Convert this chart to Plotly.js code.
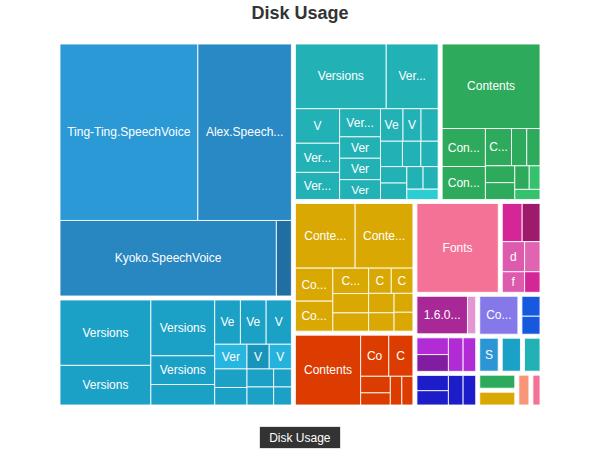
<!DOCTYPE html>
<html><head><meta charset="utf-8">
<script src="https://cdn.plot.ly/plotly-3.0.1.min.js"></script>
<style>html,body{margin:0;padding:0;background:#fff}#chart{width:600px;height:450px}</style>
</head><body><div id="chart"></div>
<script>
const rootName = 'Disk Usage';

const groupNames = ['Voices','Frameworks A','Frameworks B','Contents A','Contents B','Contents C','Fonts','Misc A',
  'Java','Components','Misc B','Misc C','Services','Misc D','Misc E','Misc F','Misc G','Misc H','Misc I','Misc J'];

const leafGroup = [
  0,0,0,0,
  1,1,1,1,1,1,1,1,1,1,1,1,1,1,1,1,1,
  2,2,2,2,2,2,2,2,2,2,2,2,2,2,2,2,2,2,2,2,
  3,3,3,3,3,3,3,3,3,3,3,
  4,4,4,4,4,4,4,4,4,4,4,4,4,
  5,5,5,5,5,5,5,
  6,
  7,7,7,7,7,7,
  8,8,
  9,
  10,10,
  11,11,11,11,
  12,13,14,
  15,15,15,15,
  16,17,18,19
];

const leafLabels = [
  'Ting-Ting.SpeechVoice','Alex.Speech...','Kyoko.SpeechVoice','',
  'Versions','Versions','Versions','Versions','','Ve','Ve','V','Ver','','','V','V','','','','',
  'Versions','Ver...','V','Ver...','Ver...','Ver...','Ver','Ver','Ver','Ve','V','','','','','','','','','',
  'Contents','Con...','Con...','C...','','','','','','','',
  'Conte...','Conte...','Co...','Co...','C...','','','C','C','','','','',
  'Contents','Co','C','','','','',
  'Fonts',
  '','','d','','f','',
  '1.6.0...','',
  'Co...',
  '','',
  '','','','',
  'S','','',
  '','','','',
  '','','',''
];

const leafValues = [
  25093,17034,16859,1171,
  6263,3794,3758,1932,1380,1200,1200,1178,841,631,596,578,578,506,506,337,337,
  6189,3536,1607,1356,1260,1211,922,922,853,771,617,586,586,493,462,456,456,385,358,339,
  8815,1751,1520,1037,606,527,527,527,362,271,271,
  4115,3975,1315,1196,969,736,697,609,581,526,498,379,379,
  4974,1263,1083,537,393,360,347,
  7912,
  877,785,775,535,529,365,
  2238,365,
  1764,
  486,438,
  631,631,589,505,
  830,820,722,
  584,545,527,452,
  665,655,476,374
];

const cBlue='rgb(42,153,214)', cTB='rgb(27,160,198)', cTeal='rgb(34,178,181)', cGreen='rgb(46,170,92)',
      cGold='rgb(217,168,2)', cRed='rgb(220,60,0)', cPink='rgb(244,114,150)', cMag='rgb(212,38,150)',
      cPur='rgb(168,40,152)', cLav='rgb(133,120,232)', cRoy='rgb(22,88,222)', cVio='rgb(178,44,214)',
      cDark='rgb(28,28,200)', cSal='rgb(248,150,120)';

const leafColors = [
  cBlue,'rgb(41,137,197)','rgb(40,134,193)','rgb(33,110,163)',
  cTB,cTB,cTB,cTB,cTB,cTB,cTB,cTB,'rgb(40,182,225)',cTB,cTB,'rgb(24,148,186)','rgb(37,178,220)',cTB,cTB,cTB,cTB,
  cTeal,cTeal,cTeal,cTeal,cTeal,cTeal,cTeal,cTeal,cTeal,cTeal,cTeal,cTeal,cTeal,cTeal,cTeal,cTeal,cTeal,cTeal,cTeal,'rgb(45,205,212)',
  cGreen,cGreen,cGreen,cGreen,cGreen,cGreen,cGreen,cGreen,cGreen,'rgb(52,195,108)','rgb(52,195,108)',
  cGold,cGold,cGold,cGold,cGold,cGold,cGold,cGold,cGold,cGold,cGold,cGold,cGold,
  cRed,cRed,cRed,cRed,cRed,cRed,cRed,
  cPink,
  cMag,'rgb(158,26,106)','rgb(222,90,172)','rgb(224,100,178)','rgb(222,90,172)',cMag,
  cPur,'rgb(228,150,210)',
  cLav,
  cRoy,cRoy,
  cVio,'rgb(130,28,160)',cVio,cVio,
  'rgb(44,150,212)',cTB,cTeal,
  cDark,cDark,cDark,cDark,
  cGreen,cGold,cSal,cPink
];

const ids=[rootName], labels=[rootName], parents=[''], values=[0], colors=['#ffffff'], texts=[''], lineW=[0];
groupNames.forEach((g,i)=>{ids.push('g'+i); labels.push(g); parents.push(rootName); values.push(0); colors.push('#ffffff'); texts.push(''); lineW.push(0);});
leafLabels.forEach((l,j)=>{ids.push('l'+j); labels.push(l || ('item ' + j)); parents.push('g'+leafGroup[j]); values.push(leafValues[j]); colors.push(leafColors[j]); texts.push(l); lineW.push(1);});

const trace = {
  type:'treemap', ids, labels, parents, values, branchvalues:'remainder',
  text: texts, textinfo:'text', textposition:'middle center',
  textfont:{family:'Liberation Sans, Arial, Helvetica, sans-serif', size:12, color:'#ffffff'},
  marker:{colors, line:{color:'rgba(255,255,255,0.85)', width: lineW}, pad:{t:2,l:2,r:2,b:2}},
  tiling:{packing:'squarify', squarifyratio:1.618, pad:0},
  pathbar:{visible:false}, leaf:{opacity:1}, root:{color:'#ffffff'}, sort:true,
  domain:{x:[56/600,544/600], y:[41/450,410/450]}, hoverinfo:'none'
};

const layout = {
  width:600, height:450, margin:{l:0,r:0,t:0,b:0},
  paper_bgcolor:'#ffffff',
  title:{text:'<b>Disk Usage</b>', x:0.5, xanchor:'center', y:1-13/450, yanchor:'middle', yref:'container',
    font:{family:'Liberation Sans, Arial, Helvetica, sans-serif', size:18, color:'#333333'}},
  annotations:[{text:'Disk Usage', xref:'paper', yref:'paper', x:0.5, y:1-437/450, xanchor:'center', yanchor:'middle',
    showarrow:false, bgcolor:'rgba(0,0,0,0.8)', bordercolor:'rgba(255,255,255,0.7)', borderwidth:1, borderpad:2,
    width:76, height:17, font:{family:'Liberation Sans, Arial, Helvetica, sans-serif', size:12, color:'#ffffff'}}]
};

Plotly.newPlot('chart',[trace],layout,{displayModeBar:false, staticPlot:true});
</script></body></html>
